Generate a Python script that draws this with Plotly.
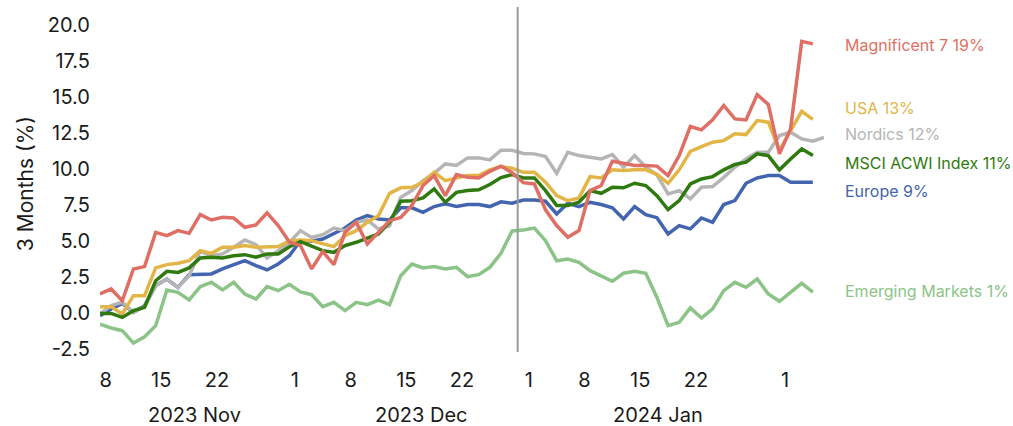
import pandas as pd
import plotly.graph_objects as go

# Trading days (weekdays) covered by the series
dates = pd.bdate_range("2023-11-08", "2024-02-07")

# 3-month rolling returns in percent, one value per trading day
mag7 = [1.32, 1.67, 0.85, 3.06, 3.22, 5.60, 5.37, 5.72, 5.53, 6.83,
        6.46, 6.64, 6.60, 5.95, 6.11, 6.95, 6.07, 4.93, 4.68, 3.06,
        4.26, 3.36, 5.60, 6.30, 4.79, 5.60, 6.41, 6.64, 7.46, 8.85,
        9.54, 8.15, 9.61, 9.42, 9.38, 9.84, 10.20, 9.75, 9.05, 8.96,
        7.16, 6.07, 5.26, 5.72, 8.50, 8.85, 10.54, 10.40, 10.24, 10.24,
        10.20, 9.55, 10.93, 12.95, 12.72, 13.41, 14.41, 13.48, 13.41, 15.17,
        14.48, 11.05, 12.79, 18.87, 18.69]

usa = [0.44, 0.44, -0.07, 1.20, 1.20, 3.13, 3.36, 3.45, 3.63, 4.33,
       4.14, 4.56, 4.56, 4.68, 4.56, 4.61, 4.61, 5.00, 5.07, 5.02,
       4.84, 4.61, 5.37, 5.72, 6.30, 6.76, 8.31, 8.69, 8.73, 9.08,
       9.77, 9.19, 9.38, 9.54, 9.54, 9.94, 10.17, 10.05, 9.77, 9.77,
       9.08, 8.15, 7.80, 7.99, 9.47, 9.38, 9.94, 9.89, 9.94, 9.94,
       9.63, 9.00, 9.94, 11.23, 11.56, 11.86, 11.97, 12.44, 12.39, 13.36,
       13.25, 11.28, 12.67, 14.01, 13.45]

nordics = [-0.07, 0.51, 0.74, 0.05, 0.44, 1.90, 2.36, 1.78, 2.59, 4.28,
           3.98, 4.10, 4.56, 5.07, 4.75, 3.82, 4.33, 4.90, 5.72, 5.25,
           5.44, 5.90, 5.72, 6.30, 6.46, 5.83, 6.06, 8.03, 8.50, 9.19,
           9.70, 10.35, 10.24, 10.77, 10.77, 10.63, 11.30, 11.30, 11.08, 11.05,
           10.86, 9.70, 11.16, 10.93, 10.81, 10.70, 11.00, 10.12, 10.93, 10.12,
           9.60, 8.27, 8.50, 7.92, 8.73, 8.78, 9.42, 10.12, 10.70, 11.16,
           11.16, 12.32, 12.55, 12.09, 11.93, 12.20]

acwi = [-0.03, -0.03, -0.31, 0.16, 0.39, 2.24, 2.89, 2.82, 3.13, 3.82,
        3.87, 3.82, 3.98, 4.05, 3.87, 4.10, 4.10, 4.60, 4.95, 4.61,
        4.33, 4.21, 4.68, 4.91, 5.21, 5.49, 6.30, 7.76, 7.80, 7.99,
        8.62, 7.69, 8.38, 8.50, 8.55, 8.92, 9.40, 9.61, 9.38, 9.38,
        8.50, 7.46, 7.46, 7.69, 8.50, 8.31, 8.73, 8.69, 9.01, 8.85,
        8.15, 7.18, 7.80, 8.96, 9.31, 9.47, 9.94, 10.31, 10.47, 11.05,
        10.93, 9.94, 10.70, 11.40, 10.93]

europe = [-0.19, 0.28, 0.67, 0.05, 0.51, 1.90, 2.36, 1.78, 2.66, 2.71,
          2.71, 3.06, 3.36, 3.63, 3.29, 2.99, 3.40, 3.98, 5.02, 4.98,
          5.14, 5.49, 5.90, 6.46, 6.76, 6.53, 6.46, 7.30, 7.30, 6.99,
          7.39, 7.58, 7.39, 7.53, 7.53, 7.39, 7.72, 7.62, 7.85, 7.85,
          7.76, 6.88, 7.62, 7.39, 7.69, 7.53, 7.30, 6.53, 7.39, 6.83,
          6.62, 5.49, 6.07, 5.84, 6.60, 6.30, 7.53, 7.80, 9.01, 9.38,
          9.54, 9.54, 9.08, 9.08, 9.08]

emerging = [-0.77, -1.04, -1.23, -2.09, -1.65, -0.88, 1.60, 1.43, 0.90, 1.83,
            2.13, 1.60, 2.13, 1.32, 0.97, 1.83, 1.55, 1.99, 1.46, 1.27,
            0.44, 0.74, 0.16, 0.74, 0.58, 0.90, 0.58, 2.59, 3.40, 3.13,
            3.22, 3.06, 3.17, 2.52, 2.66, 3.17, 4.15, 5.70, 5.77, 5.90,
            5.02, 3.63, 3.75, 3.52, 2.94, 2.59, 2.20, 2.76, 2.90, 2.76,
            1.08, -0.88, -0.65, 0.35, -0.35, 0.28, 1.55, 2.13, 1.78, 2.36,
            1.32, 0.81, 1.43, 2.06, 1.45]

# Axis ticks
x_tick_dates = ["2023-11-08", "2023-11-15", "2023-11-22", "2023-12-01",
                "2023-12-08", "2023-12-15", "2023-12-22", "2024-01-01",
                "2024-01-08", "2024-01-15", "2024-01-22", "2024-02-01"]
x_tick_text = ["8", "15", "22", "1", "8", "15", "22", "1", "8", "15", "22", "1"]
month_labels = ["2023 Nov", "2023 Dec", "2024 Jan"]
y_tick_vals = [-2.5, 0.0, 2.5, 5.0, 7.5, 10.0, 12.5, 15.0, 17.5, 20.0]
y_tick_text = ["-2.5", "0.0", "2.5", "5.0", "7.5", "10.0", "12.5", "15.0", "17.5", "20.0"]

# Drawing order, colours and end-label heights (in axis units)
series = [
    ("Emerging Markets", emerging, "#8BC486", 1.55),
    ("Europe", europe, "#4364AE", 8.5),
    ("Nordics", nordics, "#B5B5B5", 12.46),
    ("USA", usa, "#E3B546", 14.27),
    ("MSCI ACWI Index", acwi, "#2F7A0E", 10.44),
    ("Magnificent 7", mag7, "#DF6F64", 18.58),
]

FONT = "Inter, Roboto, Arial, sans-serif"
TEXT = "#1a1a1a"

fig = go.Figure()
annotations = []
for name, values, color, label_y in series:
    fig.add_trace(go.Scatter(
        x=dates[:len(values)], y=values, mode="lines", name=name,
        line=dict(color=color, width=3.5), showlegend=False,
    ))
    annotations.append(dict(
        x=1.0, xref="paper", xshift=19, y=label_y, yref="y",
        text=f"{name} {values[-1]:.0f}%", showarrow=False,
        xanchor="left", yanchor="middle",
        font=dict(family=FONT, size=16, color=color),
    ))

# Month captions under the day ticks
month_pos = ["2023-11-20 12:00", "2023-12-18 21:00", "2024-01-17 03:00"]
for label, pos in zip(month_labels, month_pos):
    annotations.append(dict(
        x=pos, xref="x", y=0, yref="paper", yshift=-63,
        text=label, showarrow=False, xanchor="center", yanchor="middle",
        font=dict(family=FONT, size=20, color=TEXT),
    ))

# Vertical axis title
annotations.append(dict(
    x=-0.102, xref="paper", y=0.487, yref="paper", text="3 Months (%)",
    textangle=-90, showarrow=False, xanchor="center", yanchor="middle",
    font=dict(family=FONT, size=21, color=TEXT),
))

fig.add_shape(type="line", x0="2023-12-29 12:00", x1="2023-12-29 12:00",
              xref="x", y0=0, y1=1, yref="paper",
              line=dict(color="#999999", width=2))

fig.update_layout(
    width=1013, height=426,
    margin=dict(l=100, r=189, t=7, b=74),
    paper_bgcolor="white", plot_bgcolor="white",
    font=dict(family=FONT, size=20, color=TEXT),
    annotations=annotations,
    xaxis=dict(
        type="date",
        range=["2023-11-08", "2024-02-07"],
        rangebreaks=[dict(bounds=["sat", "mon"])],
        tickvals=[d + " 12:00" for d in x_tick_dates],
        ticktext=x_tick_text,
        ticks="", showgrid=False, zeroline=False, showline=False,
        ticklabelstandoff=14,
        tickfont=dict(family=FONT, size=20, color=TEXT),
    ),
    yaxis=dict(
        range=[-2.71, 21.25],
        tickvals=y_tick_vals, ticktext=y_tick_text,
        ticks="", showgrid=False, zeroline=False, showline=False,
        ticklabelstandoff=9,
        tickfont=dict(family=FONT, size=20, color=TEXT),
    ),
)

fig.write_html("out.html")
